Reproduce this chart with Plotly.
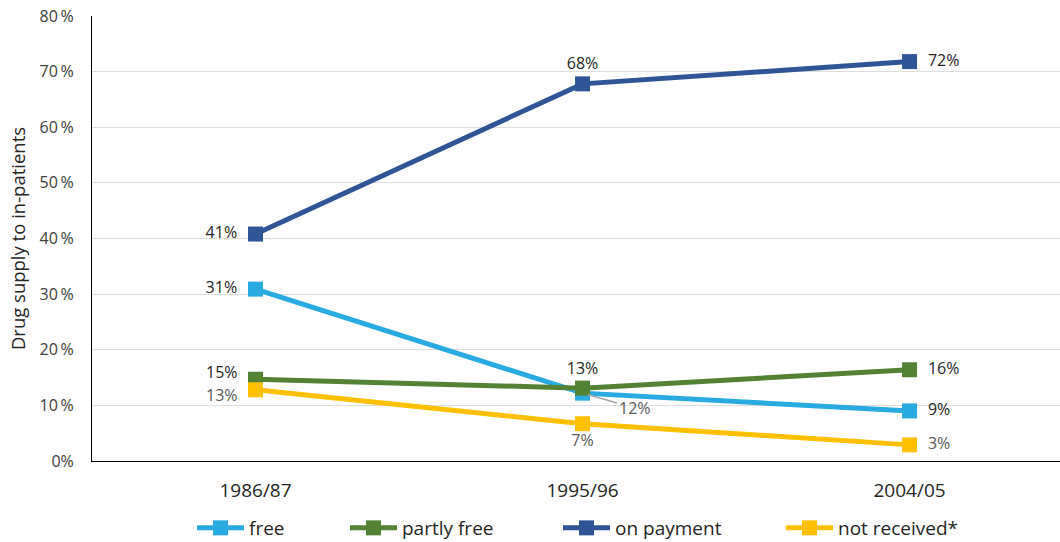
import plotly.graph_objects as go

years = ["1986/87", "1995/96", "2004/05"]
free = [30.9, 12.2, 9.0]
partly_free = [14.7, 13.1, 16.4]
on_payment = [40.8, 67.8, 71.8]
not_received = [12.8, 6.7, 2.9]

series_names = ["free", "partly free", "on payment", "not received*"]
colors = ["#29ABE2", "#548235", "#2F5597", "#FFC000"]

y_ticks = [0, 10, 20, 30, 40, 50, 60, 70, 80]
y_ticktext = ["0%", "10\u2009%", "20\u2009%", "30\u2009%", "40\u2009%", "50\u2009%", "60\u2009%", "70\u2009%", "80\u2009%"]

font_family = "Open Sans, DejaVu Sans, sans-serif"
dark = "#262626"
grey = "#595959"

fig = go.Figure()

# "" = label drawn separately as an annotation
specs = [
    (free, ["middle left", "", "middle right"], dark),
    (partly_free, ["", "top center", "middle right"], dark),
    (on_payment, ["middle left", "top center", "middle right"], dark),
    (not_received, ["", "bottom center", "middle right"], grey),
]

legend_ids = ["legend", "legend2", "legend3", "legend4"]
legend_x = [192, 345, 558, 781]

for name, color, (vals, pos, tcol), lid in zip(series_names, colors, specs, legend_ids):
    texts = [("" if p == "" else f"\u2002{v:.0f}%\u2002") for v, p in zip(vals, pos)]
    fig.add_trace(go.Scatter(
        x=years, y=vals, name=name, mode="lines+markers+text",
        line=dict(color=color, width=5),
        marker=dict(symbol="square", size=15, color=color),
        text=texts,
        textposition=[p if p else "middle right" for p in pos],
        textfont=dict(family=font_family, size=16, color=tcol),
        cliponaxis=False,
        legend=lid,
    ))

# labels at 1986/87 for the two close series
fig.add_annotation(x=years[0], y=partly_free[0], text=f"{partly_free[0]:.0f}%",
                   showarrow=False, xanchor="right", yanchor="middle",
                   xshift=-16, yshift=7,
                   font=dict(family=font_family, size=16, color=dark))
fig.add_annotation(x=years[0], y=not_received[0], text=f"{not_received[0]:.0f}%",
                   showarrow=False, xanchor="right", yanchor="middle",
                   xshift=-16, yshift=-5,
                   font=dict(family=font_family, size=16, color=grey))

# leader-line label for free at 1995/96
fig.add_annotation(
    x=years[1], y=free[1], text=f"{free[1]:.0f}%",
    showarrow=True, arrowhead=0, arrowwidth=1.5, arrowcolor="#A6A6A6",
    ax=52, ay=15, xanchor="center", yanchor="middle",
    font=dict(family=font_family, size=16, color=grey),
    standoff=6,
)

legend_common = dict(
    orientation="h", xref="container", yref="container", y=14 / 542,
    yanchor="middle", xanchor="left",
    font=dict(family=font_family, size=19, color=dark),
    itemwidth=47, bgcolor="rgba(0,0,0,0)",
)

fig.update_layout(
    width=1060, height=542,
    margin=dict(l=92, r=0, t=16, b=81),
    paper_bgcolor="white", plot_bgcolor="white",
    font=dict(family=font_family, size=16, color=grey),
    showlegend=True,
    legend=dict(x=legend_x[0] / 1060, **legend_common),
    legend2=dict(x=legend_x[1] / 1060, **legend_common),
    legend3=dict(x=legend_x[2] / 1060, **legend_common),
    legend4=dict(x=legend_x[3] / 1060, **legend_common),
    xaxis=dict(
        type="category", range=[-0.5, 2.46],
        showgrid=False, showline=True, linecolor="#000000", linewidth=1,
        ticks="", tickfont=dict(family=font_family, size=19, color=dark),
        ticklabelstandoff=12,
    ),
    yaxis=dict(
        range=[0, 80], tickvals=y_ticks, ticktext=y_ticktext,
        showgrid=True, gridcolor="#DDDDDD", gridwidth=1,
        showline=True, linecolor="#000000", linewidth=1,
        ticks="", zeroline=False,
        tickfont=dict(family=font_family, size=16, color="#404040"),
        ticklabelstandoff=14,
        title=dict(text="Drug supply to in-patients",
                   font=dict(family=font_family, size=18.5, color=dark), standoff=9),
    ),
)

fig.write_html("out.html")
